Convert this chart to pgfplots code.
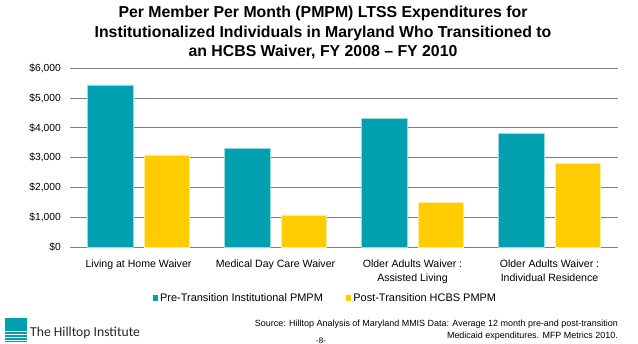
\documentclass[border=0pt]{standalone}
\usepackage{pgfplots}
\pgfplotsset{compat=1.18}
\usepackage{fontspec}
\setmainfont{Liberation Sans}
\newfontfamily\logofont{Carlito}
\definecolor{tealbar}{RGB}{0,160,176}
\definecolor{yellowbar}{RGB}{255,204,0}
\definecolor{gridgray}{RGB}{128,128,128}
\begin{document}
\begin{tikzpicture}
\begin{axis}[
  at={(70bp,-247bp)}, anchor=south west,
  width=548bp, height=178.7bp, scale only axis,
  xmin=-0.5, xmax=3.5, ymin=0, ymax=6000,
  axis line style={draw=none},
  ymajorgrids, grid style={gridgray, line width=0.9bp},
  ytick={0,1000,2000,3000,4000,5000,6000},
  yticklabels={{\$0},{\$1,000},{\$2,000},{\$3,000},{\$4,000},{\$5,000},{\$6,000}},
  yticklabel style={font=\fontsize{10.3}{11}\selectfont, anchor=east, inner sep=0pt, xshift=-9bp},
  xtick={0,1,2,3},
  xticklabels={{Living at Home Waiver},{Medical Day Care Waiver},{Older Adults Waiver :\\Assisted Living},{Older Adults Waiver :\\Individual Residence}},
  xticklabel style={font=\fontsize{10.6}{14}\selectfont, align=center, anchor=north, inner sep=0pt, yshift=-12.5bp},
  major tick length=0pt,
  tick style={draw=none},
  ybar, bar width=45.5bp,
  legend columns=2,
  legend style={at={(0.466,-0.285)}, anchor=center, draw=none, fill=none,
    font=\fontsize{11}{12}\selectfont,
    /tikz/every even column/.append style={column sep=21bp}},
  legend image code/.code={\fill[#1,draw=none] (0bp,-3bp) rectangle (5.5bp,3bp);},
]
\addplot[fill=tealbar, draw=tealbar!40!white, line width=0.5bp, bar shift=-28.3bp]
  coordinates {(0,5440) (1,3315) (2,4320) (3,3820)};
\addlegendentry{Pre-Transition Institutional PMPM}
\addplot[fill=yellowbar, draw=yellowbar!40!white, line width=0.5bp, bar shift=28.3bp]
  coordinates {(0,3090) (1,1075) (2,1510) (3,2820)};
\addlegendentry{Post-Transition HCBS PMPM}
\end{axis}
% title
\node[font=\bfseries\fontsize{15.9}{19.5}\selectfont, align=center, anchor=north] at (323bp,-3bp)
  {Per Member Per Month (PMPM) LTSS Expenditures for\\Institutionalized Individuals in Maryland Who Transitioned to\\an HCBS Waiver, FY 2008 – FY 2010};
% source
\node[font=\fontsize{9}{12}\selectfont, align=right, anchor=north east, inner sep=0pt] at (618bp,-320bp)
  {Source: Hilltop Analysis of Maryland MMIS Data: Average 12 month pre-and post-transition\\Medicaid expenditures. MFP Metrics 2010.};
% logo
\fill[tealbar] (5bp,-318bp) rectangle (27bp,-342bp);
\foreach \yy in {-331,-334,-337,-340} {\draw[white, line width=0.9bp] (5bp,\yy bp) -- (27bp,\yy bp);}
\node[font=\logofont\fontsize{13.7}{14}\selectfont, anchor=west, inner sep=0pt, text=black!85] at (30bp,-333bp) {The Hilltop Institute};
\node[font=\fontsize{8}{9}\selectfont, anchor=south, inner sep=0pt] at (321bp,-343.5bp) {-8-};
\pgfresetboundingbox
\path[use as bounding box] (0,0) rectangle (638bp,-344bp);
\end{tikzpicture}
\end{document}
